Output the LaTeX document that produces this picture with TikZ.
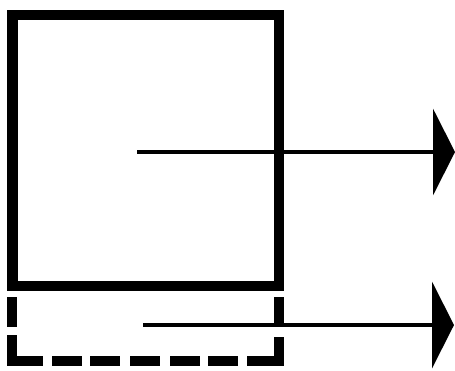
\documentclass[tikz,border=0pt]{standalone}
\usetikzlibrary{arrows.meta}

\begin{document}
\begin{tikzpicture}[x=0.02cm, y=-0.02cm, >={Triangle[length=12.5pt, width=49pt]}]

    % =================================================================
    % 1. MAIN POINTS
    % =================================================================
    \useasboundingbox (0,0) rectangle (455,370);
    \coordinate (TopLeft) at (12.5, 15);
    \coordinate (BottomRight) at (279, 286);

    \coordinate (P) at (137, 152);
    \coordinate (PEnd) at (455, 152);
    \coordinate (Q) at (143, 325);
    \coordinate (QEnd) at (454, 325);

    % =================================================================
    % 2. SOLID BOX
    % =================================================================
    \draw[line width=6.2pt, miter limit=10] (TopLeft) rectangle (BottomRight);

    % =================================================================
    % 3. DASHED BOX BELOW
    % =================================================================
    \begin{scope}[line width=5.6pt]
        % left side
        \draw (12, 297) -- (12, 327);
        \draw (12, 335) -- (12, 361) -- (43, 361);
        % bottom dashes
        \foreach \x in {52, 90, 130, 170, 208} {
            \draw (\x, 361) -- (\x+30, 361);
        }
        % right side
        \draw (247, 361) -- (279, 361) -- (279, 337);
        \draw (279, 297) -- (279, 325);
    \end{scope}

    % =================================================================
    % 4. ARROWS
    % =================================================================
    \draw[->, line width=2.5pt] (P) -- (PEnd);
    \draw[->, line width=2.7pt] (Q) -- (QEnd);

\end{tikzpicture}
\end{document}
